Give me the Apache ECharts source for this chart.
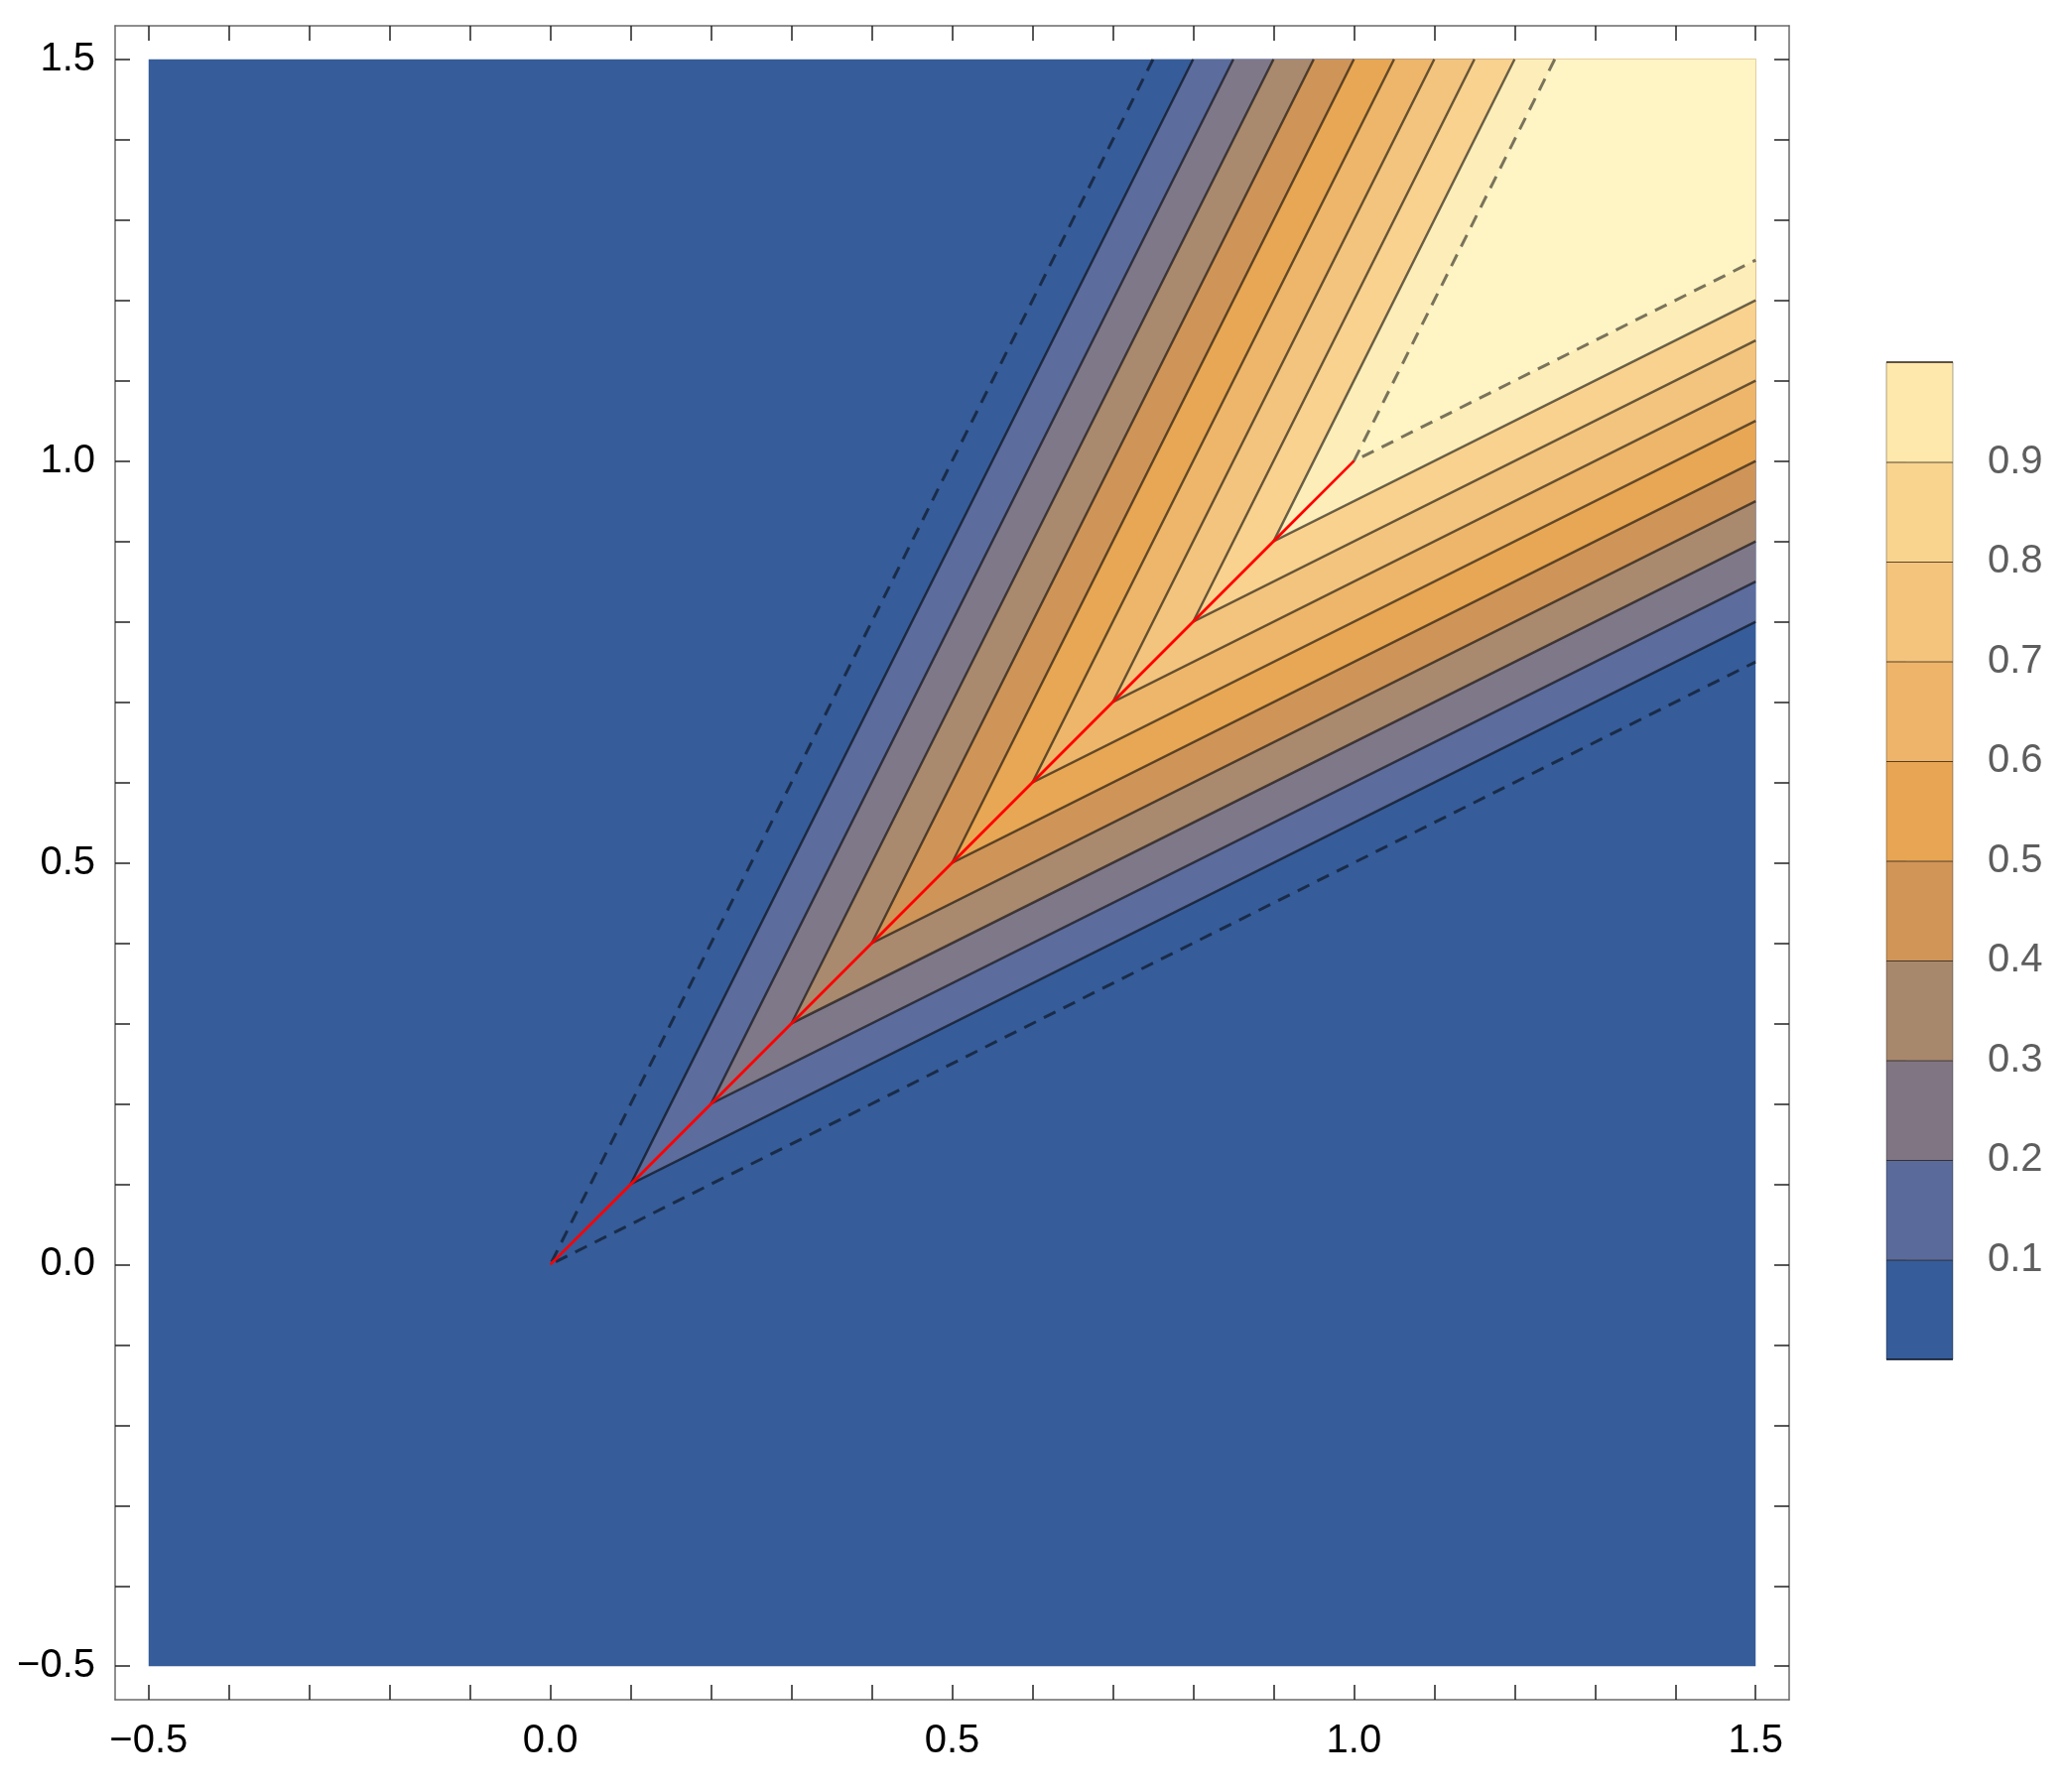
<!DOCTYPE html>
<html>
<head>
<meta charset="utf-8">
<script src="https://cdn.jsdelivr.net/npm/echarts@6/dist/echarts.min.js"></script>
<style>
html,body{margin:0;padding:0;background:#fff;}
#chart{width:2082px;height:1806px;}
</style>
</head>
<body>
<div id="chart"></div>
<script>
// ---- data ----
// contour levels of f(x,y) = min(2x - y, 2y - x); each level's contour is a wedge with apex (c,c)
const levels = [0, 0.1, 0.2, 0.3, 0.4, 0.5, 0.6, 0.7, 0.8, 0.9, 1.0];
const slopeUpper = 2;      // upper contour branch: y - c = 2 (x - c)
const slopeLower = 0.5;    // lower contour branch: y - c = 0.5 (x - c)
const domain = [-0.5, 1.5];
const wedgeColors = ['#365C99', '#5B6C9D', '#7F7889', '#A98A6F', '#CF9558', '#E8A754', '#EEB66A', '#F3C47D', '#F8D28E', '#FDEEB9', '#FEF4C4'];
const barColors = ['#365C99', '#5A6A9A', '#807683', '#A8886C', '#D09557', '#E8A553', '#EEB56A', '#F4C47C', '#F9D48F', '#FEE8AB'];
const diagonal = [[0, 0], [0.1, 0.1], [0.2, 0.2], [0.3, 0.3], [0.4, 0.4], [0.5, 0.5], [0.6, 0.6], [0.7, 0.7], [0.8, 0.8], [0.9, 0.9], [1.0, 1.0]];
const axisTicks = [-0.5, -0.4, -0.3, -0.2, -0.1, 0, 0.1, 0.2, 0.3, 0.4, 0.5, 0.6, 0.7, 0.8, 0.9, 1.0, 1.1, 1.2, 1.3, 1.4, 1.5];
const axisLabels = [-0.5, 0, 0.5, 1.0, 1.5];
const barTicks = [0.1, 0.2, 0.3, 0.4, 0.5, 0.6, 0.7, 0.8, 0.9];
const barBands = [[0, 0.1], [0.1, 0.2], [0.2, 0.3], [0.3, 0.4], [0.4, 0.5], [0.5, 0.6], [0.6, 0.7], [0.7, 0.8], [0.8, 0.9], [0.9, 1.0]];

const PAD = 0.0417;
const AX_MIN = domain[0] - PAD, AX_MAX = domain[1] + PAD;
const FONT = "'Liberation Sans', Arial, Helvetica, sans-serif";

function fmt(v) {
  const s = Math.abs(v).toFixed(1);
  return v < 0 ? '\u2212' + s : s;
}
function wedgePoints(c) {
  const D = domain[1];
  return [
    [c + (D - c) / slopeUpper, D],
    [c, c],
    [D, c + (D - c) * slopeLower]
  ];
}

function frameAxis(pos, isX, labels) {
  return {
    type: 'value', gridIndex: 0, min: AX_MIN, max: AX_MAX, position: pos,
    axisLine: { show: true, onZero: false, lineStyle: { color: '#6a6a6a', width: 1.5 } },
    axisTick: { show: true, inside: true, length: 15, customValues: axisTicks, lineStyle: { color: '#222', width: 1.5 } },
    axisLabel: labels ? {
      show: true, customValues: axisLabels, formatter: fmt, fontSize: 40, color: '#000',
      fontFamily: FONT, margin: isX ? 22 : 20
    } : { show: false },
    splitLine: { show: false }
  };
}

const chart = echarts.init(document.getElementById('chart'), null, { renderer: 'canvas' });
const option = {
  animation: false,
  backgroundColor: '#fff',
  grid: [
    { left: 116, top: 26, width: 1687, height: 1687 },
    { left: 1901, top: 365, width: 67, height: 1005 }
  ],
  xAxis: [
    frameAxis('bottom', true, true),
    frameAxis('top', true, false),
    { type: 'value', gridIndex: 1, min: 0, max: 1, show: false }
  ],
  yAxis: [
    frameAxis('left', false, true),
    frameAxis('right', false, false),
    {
      type: 'value', gridIndex: 1, min: 0, max: 1, position: 'right',
      axisLine: { show: false },
      axisTick: { show: true, inside: false, length: 20, customValues: barTicks, lineStyle: { color: '#8a8a8a', width: 1.2 } },
      axisLabel: { show: true, customValues: barTicks, formatter: v => v.toFixed(1), fontSize: 40, color: '#5e5e5e', fontFamily: FONT, margin: 35 },
      splitLine: { show: false }
    }
  ],
  series: [
    { // background domain
      type: 'custom', xAxisIndex: 0, yAxisIndex: 0, z: 1,
      data: [[domain[0], domain[0], domain[1], domain[1]]],
      renderItem: (params, api) => {
        const p0 = api.coord([api.value(0), api.value(3)]);
        const p1 = api.coord([api.value(2), api.value(1)]);
        return { type: 'rect', shape: { x: p0[0], y: p0[1], width: p1[0] - p0[0], height: p1[1] - p0[1] }, style: { fill: wedgeColors[0] } };
      }
    },
    { // filled bands (superlevel wedges)
      type: 'custom', xAxisIndex: 0, yAxisIndex: 0, z: 2,
      data: levels.map(c => [c]),
      renderItem: (params, api) => {
        const c = api.value(0);
        const w = wedgePoints(c);
        const pts = [w[0], [domain[1], domain[1]], w[2], w[1]].map(p => api.coord(p));
        return { type: 'polygon', shape: { points: pts }, style: { fill: wedgeColors[params.dataIndex] } };
      }
    },
    { // contour lines
      type: 'custom', xAxisIndex: 0, yAxisIndex: 0, z: 3,
      data: levels.map(c => [c]),
      renderItem: (params, api) => {
        const c = api.value(0);
        const pts = wedgePoints(c).map(p => api.coord(p));
        const dashed = (c === levels[0] || c === levels[levels.length - 1]);
        return {
          type: 'polyline', shape: { points: pts },
          style: dashed
            ? { stroke: 'rgba(0,0,0,0.52)', lineWidth: 3, fill: null, lineDash: [13, 9] }
            : { stroke: 'rgba(0,0,0,0.58)', lineWidth: 2.4, fill: null }
        };
      }
    },
    { // red diagonal
      type: 'line', xAxisIndex: 0, yAxisIndex: 0, z: 4,
      data: diagonal, symbol: 'none', silent: true,
      lineStyle: { color: '#ff0000', width: 2.8 }
    },
    { // colour bar
      type: 'custom', xAxisIndex: 2, yAxisIndex: 2, z: 2,
      data: barBands,
      renderItem: (params, api) => {
        const lo = api.value(0), hi = api.value(1);
        const a = api.coord([0, hi]);
        const b = api.coord([1, lo]);
        const children = [
          { type: 'rect', shape: { x: a[0], y: a[1], width: b[0] - a[0], height: b[1] - a[1] }, style: { fill: barColors[params.dataIndex] } },
          { type: 'line', shape: { x1: a[0], y1: a[1], x2: a[0], y2: b[1] }, style: { stroke: 'rgba(0,0,0,0.22)', lineWidth: 1.5 } },
          { type: 'line', shape: { x1: b[0], y1: a[1], x2: b[0], y2: b[1] }, style: { stroke: 'rgba(0,0,0,0.22)', lineWidth: 1.5 } },
          { type: 'line', shape: { x1: a[0], y1: a[1], x2: b[0], y2: a[1] }, style: { stroke: 'rgba(40,30,20,0.75)', lineWidth: 2 } }
        ];
        if (params.dataIndex === 0) {
          children.push({ type: 'line', shape: { x1: a[0], y1: b[1], x2: b[0], y2: b[1] }, style: { stroke: 'rgba(20,30,50,0.85)', lineWidth: 2 } });
        }
        return { type: 'group', children: children };
      }
    }
  ]
};
chart.setOption(option);
</script>
</body>
</html>
